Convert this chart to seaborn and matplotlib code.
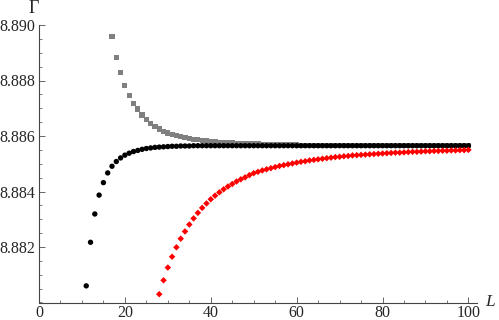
import numpy as np
import pandas as pd
import matplotlib
matplotlib.use("Agg")
import matplotlib.pyplot as plt
from matplotlib.ticker import MultipleLocator, FixedLocator, FormatStrFormatter
import seaborn as sns

# Gamma(L) for three sequences
L_black = np.arange(11, 101)
gamma_black = [
    8.88060, 8.88217, 8.88319, 8.88387, 8.88432, 8.88467, 8.88491, 8.88508, 8.88521, 8.88531,
    8.88538, 8.88544, 8.88548, 8.88552, 8.88555, 8.88557, 8.88559, 8.88560, 8.88561, 8.88562,
    8.88563, 8.88563, 8.88564, 8.88564, 8.88564, 8.88565, 8.88565, 8.88565, 8.88565, 8.88565,
    8.88565, 8.88565, 8.88565, 8.88565, 8.88565, 8.88565, 8.88565, 8.88565, 8.88565, 8.88565,
    8.88565, 8.88565, 8.88565, 8.88565, 8.88565, 8.88565, 8.88565, 8.88565, 8.88565, 8.88565,
    8.88565, 8.88565, 8.88565, 8.88565, 8.88565, 8.88565, 8.88565, 8.88565, 8.88565, 8.88565,
    8.88565, 8.88565, 8.88565, 8.88565, 8.88565, 8.88565, 8.88565, 8.88565, 8.88565, 8.88565,
    8.88565, 8.88565, 8.88565, 8.88565, 8.88565, 8.88565, 8.88565, 8.88565, 8.88565, 8.88565,
    8.88565, 8.88565, 8.88565, 8.88565, 8.88565, 8.88565, 8.88565, 8.88565, 8.88565, 8.88565,
]

L_gray = np.arange(17, 101)
gamma_gray = [
    8.88958, 8.88884, 8.88828, 8.88782, 8.88747, 8.88718, 8.88697, 8.88676, 8.88660, 8.88646,
    8.88634, 8.88625, 8.88617, 8.88611, 8.88606, 8.88601, 8.88597, 8.88594, 8.88591, 8.88588,
    8.88586, 8.88584, 8.88582, 8.88581, 8.88579, 8.88578, 8.88577, 8.88576, 8.88575, 8.88574,
    8.88573, 8.88572, 8.88572, 8.88571, 8.88571, 8.88570, 8.88570, 8.88569, 8.88569, 8.88569,
    8.88568, 8.88568, 8.88568, 8.88568, 8.88567, 8.88567, 8.88567, 8.88567, 8.88567, 8.88567,
    8.88567, 8.88567, 8.88567, 8.88567, 8.88567, 8.88567, 8.88567, 8.88567, 8.88567, 8.88566,
    8.88566, 8.88566, 8.88566, 8.88566, 8.88566, 8.88566, 8.88566, 8.88566, 8.88566, 8.88566,
    8.88566, 8.88566, 8.88566, 8.88566, 8.88566, 8.88566, 8.88566, 8.88566, 8.88566, 8.88566,
    8.88566, 8.88566, 8.88566, 8.88566,
]

L_red = np.arange(28, 101)
gamma_red = [
    8.88030, 8.88080, 8.88126, 8.88165, 8.88199, 8.88230, 8.88256, 8.88281, 8.88303, 8.88323,
    8.88341, 8.88357, 8.88372, 8.88385, 8.88397, 8.88408, 8.88418, 8.88427, 8.88436, 8.88444,
    8.88451, 8.88459, 8.88466, 8.88471, 8.88476, 8.88480, 8.88484, 8.88488, 8.88492, 8.88495,
    8.88498, 8.88501, 8.88504, 8.88507, 8.88509, 8.88512, 8.88514, 8.88516, 8.88518, 8.88520,
    8.88522, 8.88524, 8.88525, 8.88527, 8.88528, 8.88530, 8.88531, 8.88532, 8.88533, 8.88534,
    8.88535, 8.88536, 8.88537, 8.88538, 8.88539, 8.88540, 8.88540, 8.88541, 8.88542, 8.88543,
    8.88543, 8.88544, 8.88545, 8.88545, 8.88546, 8.88546, 8.88547, 8.88547, 8.88548, 8.88548,
    8.88549, 8.88549, 8.88550,
]

x_major = [0, 20, 40, 60, 80, 100]
y_major = [8.882, 8.884, 8.886, 8.888, 8.890]

sns.set_style("ticks")
plt.rcParams["font.family"] = ["Liberation Serif", "DejaVu Serif"]

fig = plt.figure(figsize=(4.99, 3.2), dpi=100)
ax = fig.add_axes([39 / 499, (320 - 302.5) / 320, 438 / 499, 277.5 / 320])

series = [
    (L_gray, gamma_gray, "#808080", "s", 14),
    (L_black, gamma_black, "black", "o", 15),
    (L_red, gamma_red, "#ff0000", "D", 11),
]
for xs, ys, col, mk, sz in series:
    df = pd.DataFrame({"L": xs, "Gamma": ys})
    sns.scatterplot(data=df, x="L", y="Gamma", color=col, marker=mk, s=sz,
                    edgecolor="none", linewidth=0, ax=ax, clip_on=False, zorder=3)

ax.set_xlim(0, 102)
ax.set_ylim(8.8800, 8.8900)
ax.xaxis.set_major_locator(FixedLocator(x_major))
ax.xaxis.set_minor_locator(MultipleLocator(5))
ax.yaxis.set_major_locator(FixedLocator(y_major))
ax.yaxis.set_minor_locator(MultipleLocator(0.0005))
ax.yaxis.set_major_formatter(FormatStrFormatter("%.3f"))

sns.despine(ax=ax)
for side in ["left", "bottom"]:
    ax.spines[side].set_color("#444444")
    ax.spines[side].set_linewidth(0.8)
ax.tick_params(which="both", direction="in", color="#666666")
ax.tick_params(axis="x", labelsize=11.5, pad=2)
ax.tick_params(axis="y", labelsize=11.5, pad=3)
ax.tick_params(which="major", length=4, width=0.7)
ax.tick_params(which="minor", length=2.3, width=0.6)
ax.set_xlabel("")
ax.set_ylabel("")

ax.text(105, 8.8800, "L", style="italic", fontsize=12.5, ha="center", va="center", clip_on=False)
ax.text(-1.2, 8.89058, "Γ", fontsize=13, ha="center", va="center", clip_on=False)

fig.savefig("out.png", dpi=100)
